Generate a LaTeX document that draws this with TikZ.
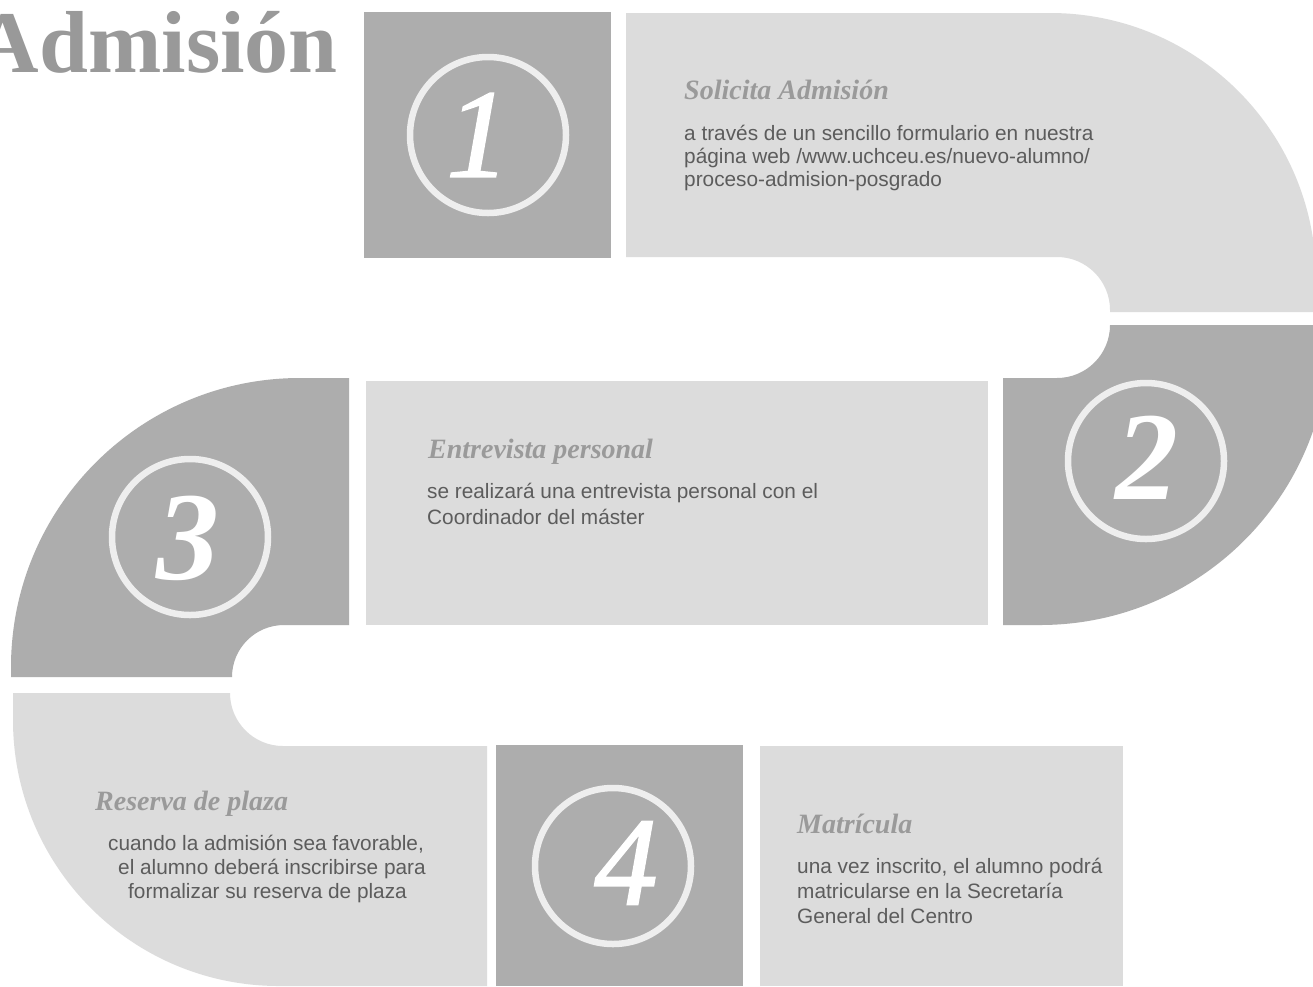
\documentclass[tikz,border=0pt]{standalone}
\usepackage{fontspec}
\setmainfont{Liberation Serif}
\newfontfamily\bodyfont{Liberation Sans}
\newfontfamily\digitfont[FakeBold=1.6]{Liberation Serif}
\definecolor{darkg}{HTML}{ADADAD}
\definecolor{lightg}{HTML}{DCDCDC}
\definecolor{ringg}{HTML}{EEEEEE}
\definecolor{headg}{HTML}{9A9A9A}
\definecolor{textg}{HTML}{5C5C5C}
\definecolor{titleg}{HTML}{999999}
\begin{document}
\begin{tikzpicture}[x=1pt,y=-1pt,
  darkfill/.style={fill=darkg},
  lightfill/.style={fill=lightg},
  ring/.style={circle,draw=ringg,line width=6.5pt,minimum size=156pt,inner sep=0pt},
  digit/.style={text=white,inner sep=0pt,font=\digitfont\fontsize{126}{126}\selectfont\itshape},
  bdigit/.style={text=white,inner sep=0pt,font=\fontsize{126}{126}\selectfont\bfseries\itshape},
  head/.style={anchor=base west,inner sep=0pt,text=headg,font=\fontsize{28}{30}\selectfont\bfseries\itshape},
  body/.style={anchor=base west,inner sep=0pt,text=textg,font=\bodyfont\fontsize{20.8}{25}\selectfont},
]
\useasboundingbox (0,0) rectangle (1313,986);
\clip (0,0) rectangle (1313,986);
\fill[white] (0,0) rectangle (1313,986);

% step 1
\fill[darkfill] (364,12) rectangle (611,258);
\fill[lightfill] (626,13) -- (1050,13) arc[start angle=90,end angle=0,radius=266pt]
  -- (1316,312) -- (1110,312) -- (1110,310) arc[start angle=0,end angle=90,radius=53pt]
  -- (626,257) -- cycle;
% step 2
\fill[darkfill] (1003,378) -- (1057,378) arc[start angle=-90,end angle=0,radius=53pt]
  -- (1110,325) -- (1329,325) -- (1329,336) arc[start angle=0,end angle=-90,radius=289pt]
  -- (1003,625) -- cycle;
\fill[lightfill] (366,381) rectangle (988,625);
% step 3
\fill[darkfill] (349,378) -- (300,378) arc[start angle=90,end angle=180,radius=289pt]
  -- (11,677) -- (232,677) arc[start angle=180,end angle=90,radius=52pt]
  -- (349,625) -- cycle;
% reserva
\fill[lightfill] (13,693) -- (230,693) arc[start angle=180,end angle=270,radius=53pt]
  -- (487,746) -- (487,986) -- (279,986) arc[start angle=270,end angle=180,radius=266pt]
  -- cycle;
% step 4
\fill[darkfill] (496,745) rectangle (743,986);
\fill[lightfill] (760,746) rectangle (1123,986);

% title
\node[anchor=base east,inner sep=0pt,text=titleg,font=\fontsize{88}{90}\selectfont\bfseries] (title) at (338,72) {Admisión};

% rings and digits
\node[ring] (c1) at (488,135) {};
\node[ring] (c2) at (1146,461) {};
\node[ring] (c3) at (190,537) {};
\node[ring] (c4) at (613,866) {};
\node[digit] (n1) at (478,135) {1};
\node[bdigit] (n2) at (1147,458) {2};
\node[bdigit] (n3) at (188,538) {3};
\node[digit] (n4) at (626,863) {4};

% texts step 1
\node[head] (h1) at (684,99) {Solicita Admisión};
\node[body] (t1a) at (684,140) {a través de un sencillo formulario en nuestra};
\node[body] (t1b) at (684,163) {página web /www.uchceu.es/nuevo-alumno/};
\node[body] (t1c) at (684,186) {proceso-admision-posgrado};

% texts entrevista
\node[head] (h2) at (428,458) {Entrevista personal};
\node[body] (t2a) at (427,498) {se realizará una entrevista personal con el};
\node[body] (t2b) at (427,524) {Coordinador del máster};

% texts reserva
\node[head] (h3) at (95,810) {Reserva de plaza};
\node[body] (t3a) at (108,850) {cuando la admisión sea favorable,};
\node[body] (t3b) at (118,874) {el alumno deberá inscribirse para};
\node[body] (t3c) at (128,898) {formalizar su reserva de plaza};

% texts matricula
\node[head] (h4) at (797,833) {Matrícula};
\node[body] (t4a) at (797,873) {una vez inscrito, el alumno podrá};
\node[body] (t4b) at (797,898) {matricularse en la Secretaría};
\node[body] (t4c) at (797,923) {General del Centro};
\end{tikzpicture}
\end{document}
